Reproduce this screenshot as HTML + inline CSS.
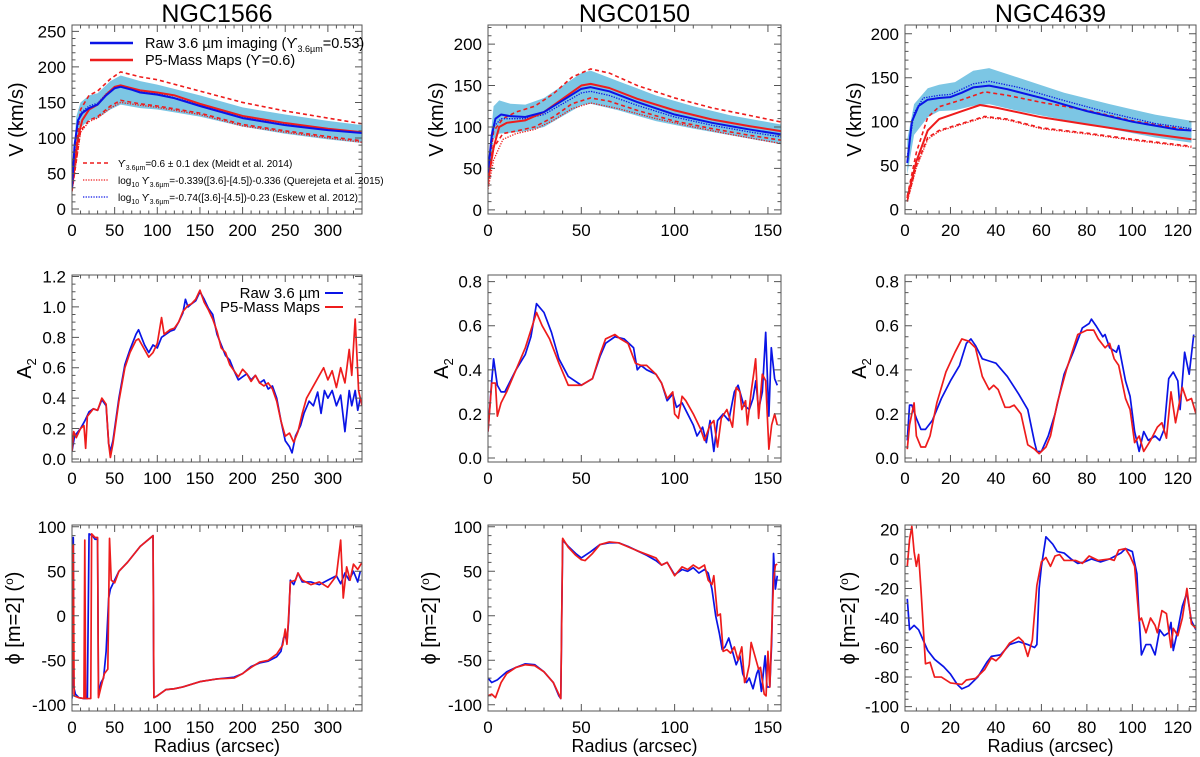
<!DOCTYPE html>
<html><head><meta charset="utf-8"><style>
html,body{margin:0;padding:0;background:#fff;}
svg{display:block;font-family:"Liberation Sans",sans-serif;}
</style></head><body>
<svg id="fig" width="1200" height="757" viewBox="0 0 1200 757" xmlns="http://www.w3.org/2000/svg"></svg>
<script>
// ---------- DATA ----------
const n1566Raw=[[0,30],[3,90],[7,125],[12,135],[20,142],[30,147],[40,160],[50,170],[57,172],[70,168],[80,164],[100,161],[120,156],[150,145],[200,128],[250,118],[300,111],[340,107]];
const n1566P5=[[0,30],[3,60],[7,100],[12,125],[20,140],[30,147],[40,161],[50,172],[57,174],[70,170],[80,167],[100,164],[120,160],[150,148],[200,131],[250,121],[300,113],[340,108]];
const n1566BandHi=[[0,40],[5,130],[10,150],[20,160],[30,163],[45,180],[57,188],[80,180],[100,175],[150,160],[200,143],[250,133],[300,124],[340,118]];
const n1566BandLo=[[0,30],[5,90],[10,115],[20,125],[30,128],[45,140],[57,147],[80,142],[100,140],[150,130],[200,116],[250,106],[300,98],[340,93]];
const n1566DashHi=[[0,40],[10,140],[20,160],[30,166],[45,183],[57,193],[80,186],[100,182],[150,166],[200,150],[250,138],[300,128],[340,120]];
const n1566DashLo=[[0,25],[10,110],[20,125],[30,130],[45,145],[57,153],[80,148],[100,145],[150,135],[200,119],[250,110],[300,102],[340,96]];
const n1566DotRed=[[0,25],[10,108],[20,123],[30,128],[45,142],[57,150],[80,146],[100,143],[150,133],[200,117],[250,108],[300,100],[340,94]];
const n1566DotBlue=[[0,35],[5,110],[10,135],[20,145],[30,149],[40,162],[50,172],[57,174],[80,166],[100,163],[150,147],[200,130],[250,120],[300,112],[340,108]];
const n150Raw=[[0,45],[2,90],[4,110],[7,115],[12,113],[20,112],[30,118],[40,132],[50,146],[55,148],[65,143],[80,130],[100,115],[120,105],[140,97],[157,91]];
const n150P5=[[0,35],[3,75],[6,100],[10,105],[20,108],[30,118],[40,134],[50,150],[55,152],[65,147],[80,134],[100,120],[120,109],[140,101],[157,95]];
const n150BandHi=[[0,55],[3,125],[6,132],[12,128],[20,127],[30,135],[40,150],[50,165],[55,168],[70,155],[90,138],[110,125],[130,114],[157,103]];
const n150BandLo=[[0,35],[3,85],[6,92],[12,93],[20,95],[30,100],[40,113],[50,126],[55,128],[70,120],[90,107],[110,98],[130,90],[157,79]];
const n150DashHi=[[0,40],[3,95],[8,110],[15,118],[25,125],[35,140],[45,160],[55,170],[65,165],[80,150],[100,135],[120,123],[140,114],[157,106]];
const n150DashLo=[[0,30],[3,75],[8,92],[15,95],[25,100],[35,112],[45,128],[55,135],[65,131],[80,120],[100,107],[120,98],[140,90],[157,84]];
const n150DotRed=[[0,25],[3,60],[8,85],[15,92],[25,97],[35,108],[45,122],[55,129],[70,122],[90,110],[110,100],[130,91],[157,80]];
const n150DotBlue=[[0,45],[3,100],[7,110],[12,110],[20,110],[30,115],[40,128],[50,141],[55,143],[65,138],[80,126],[100,112],[120,102],[140,94],[157,88]];
const n4639Raw=[[1,53],[3,100],[6,118],[10,125],[15,127],[20,128],[25,133],[30,139],[37,141],[45,137],[60,127],[80,112],[100,100],[120,91],[126,90]];
const n4639P5=[[1,13],[5,55],[10,90],[15,103],[25,112],[33,119],[40,116],[60,105],[80,97],[100,89],[126,80]];
const n4639BandHi=[[1,80],[4,120],[10,138],[15,142],[22,145],[30,158],[37,161],[50,150],[70,133],[90,120],[110,108],[126,101]];
const n4639BandLo=[[1,40],[4,85],[10,105],[15,112],[22,113],[30,118],[37,120],[50,112],[70,102],[90,92],[110,82],[126,76]];
const n4639DashHi=[[1,15],[5,65],[10,105],[15,117],[25,125],[35,134],[45,130],[60,122],[80,113],[100,101],[126,90]];
const n4639DashLo=[[1,10],[5,50],[10,82],[15,90],[25,98],[35,106],[45,103],[60,93],[80,87],[100,80],[126,72]];
const n4639DotRed=[[1,9],[5,48],[10,80],[15,89],[25,97],[35,105],[45,102],[60,92],[80,86],[100,79],[126,71]];
const n4639DotBlue=[[1,60],[4,110],[8,127],[15,130],[20,131],[30,143],[37,146],[50,139],[70,124],[90,110],[110,98],[126,92]];
const a2n1566Raw=[[0,0.05],[3,0.15],[10,0.2],[15,0.25],[20,0.31],[25,0.33],[30,0.32],[35,0.39],[40,0.35],[43,0.1],[45,0.05],[48,0.12],[55,0.4],[62,0.62],[68,0.72],[75,0.82],[78,0.85],[85,0.75],[90,0.7],[95,0.75],[100,0.73],[105,0.8],[110,0.82],[115,0.84],[120,0.85],[125,0.9],[130,0.96],[133,1.05],[136,1.0],[140,1.02],[145,1.04],[150,1.1],[155,1.05],[160,0.99],[165,0.95],[170,0.82],[175,0.75],[180,0.68],[185,0.65],[190,0.58],[195,0.52],[200,0.54],[205,0.56],[210,0.52],[215,0.55],[220,0.5],[225,0.52],[230,0.46],[235,0.48],[240,0.4],[245,0.25],[250,0.12],[255,0.08],[258,0.04],[262,0.15],[268,0.22],[272,0.3],[278,0.38],[283,0.35],[288,0.44],[292,0.3],[296,0.45],[300,0.4],[305,0.45],[310,0.35],[315,0.42],[320,0.18],[325,0.45],[328,0.35],[332,0.45],[335,0.32],[338,0.4]];
const a2n1566P5=[[0,0.05],[2,0.18],[5,0.14],[10,0.2],[14,0.22],[16,0.07],[18,0.28],[25,0.33],[30,0.32],[35,0.4],[40,0.36],[43,0.1],[45,0.01],[48,0.1],[55,0.38],[62,0.6],[68,0.7],[75,0.78],[78,0.79],[85,0.72],[90,0.67],[95,0.7],[100,0.76],[105,0.93],[108,0.82],[115,0.85],[120,0.86],[125,0.9],[130,0.97],[136,1.01],[140,1.02],[145,1.05],[150,1.11],[155,1.03],[160,0.98],[165,0.92],[170,0.84],[175,0.73],[180,0.7],[185,0.62],[190,0.58],[195,0.54],[200,0.59],[205,0.56],[210,0.51],[215,0.55],[220,0.5],[225,0.48],[230,0.5],[235,0.46],[240,0.38],[245,0.25],[250,0.15],[255,0.17],[260,0.11],[265,0.18],[270,0.3],[275,0.4],[280,0.45],[285,0.5],[290,0.55],[295,0.6],[300,0.52],[305,0.58],[310,0.47],[315,0.6],[320,0.5],[325,0.72],[328,0.55],[332,0.92],[336,0.45],[340,0.35]];
const a2n150Raw=[[0,0.12],[2,0.35],[3,0.45],[5,0.33],[7,0.3],[9,0.3],[12,0.35],[15,0.4],[20,0.47],[23,0.55],[26,0.7],[30,0.66],[34,0.57],[38,0.45],[43,0.37],[50,0.33],[56,0.36],[60,0.46],[63,0.52],[68,0.55],[73,0.54],[78,0.5],[80,0.4],[82,0.42],[85,0.4],[90,0.38],[93,0.34],[96,0.26],[99,0.29],[101,0.23],[104,0.25],[107,0.2],[110,0.15],[112,0.1],[115,0.14],[117,0.07],[119,0.17],[121,0.03],[123,0.17],[126,0.2],[129,0.17],[132,0.3],[134,0.33],[137,0.24],[140,0.22],[142,0.27],[143.5,0.35],[145,0.22],[147,0.3],[148.8,0.57],[150.5,0.19],[151.8,0.5],[153.6,0.36],[155,0.33]];
const a2n150P5=[[0,0.12],[2,0.34],[4,0.34],[5,0.19],[7,0.25],[10,0.3],[15,0.4],[20,0.5],[26,0.66],[29,0.6],[33,0.54],[38,0.43],[43,0.33],[50,0.33],[56,0.36],[60,0.47],[63,0.54],[68,0.56],[71,0.54],[75,0.52],[79,0.43],[82,0.42],[85,0.42],[90,0.38],[93,0.34],[96,0.27],[99,0.3],[100,0.2],[102,0.18],[104,0.28],[106,0.26],[110,0.2],[114,0.13],[116,0.08],[119,0.15],[121,0.17],[123,0.05],[125,0.18],[128,0.22],[131,0.14],[133,0.32],[135,0.3],[136,0.22],[138,0.26],[139,0.15],[141,0.3],[142.5,0.39],[143.4,0.45],[145,0.18],[147,0.38],[148.8,0.35],[150.5,0.04],[152,0.15],[153.6,0.2],[155,0.15]];
const a2n4639Raw=[[1,0.08],[2,0.24],[3,0.24],[5,0.18],[7,0.13],[9,0.13],[12,0.17],[16,0.27],[20,0.35],[24,0.42],[27,0.52],[29,0.54],[31,0.51],[34,0.45],[37,0.44],[40,0.43],[45,0.37],[50,0.29],[54,0.22],[57,0.07],[58,0.03],[60,0.03],[63,0.1],[66,0.2],[70,0.38],[74,0.48],[78,0.59],[81,0.61],[82,0.63],[84,0.6],[87,0.55],[88,0.56],[90,0.5],[93,0.48],[94,0.51],[97,0.35],[99,0.28],[101,0.12],[103,0.03],[105,0.12],[107,0.08],[110,0.1],[112,0.08],[114,0.13],[116,0.36],[118,0.39],[120,0.35],[121,0.22],[123,0.48],[125,0.38],[127,0.56]];
const a2n4639P5=[[1,0.04],[2,0.15],[4,0.25],[5,0.1],[7,0.05],[9,0.05],[11,0.1],[14,0.25],[18,0.39],[22,0.48],[25,0.54],[28,0.53],[31,0.5],[34,0.37],[37,0.31],[39,0.33],[41,0.31],[44,0.23],[46,0.23],[48,0.24],[51,0.2],[54,0.06],[57,0.04],[59,0.02],[62,0.05],[64,0.1],[67,0.25],[71,0.4],[76,0.56],[80,0.58],[83,0.58],[85,0.54],[88,0.5],[90,0.52],[92,0.45],[94,0.42],[97,0.27],[99,0.22],[101,0.07],[103,0.1],[105,0.03],[108,0.08],[111,0.14],[113,0.16],[115,0.09],[117,0.3],[119,0.16],[122,0.32],[124,0.26],[126,0.27],[128,0.2]];
const phn1566Raw=[[0,-93],[1.5,88],[2,-80],[4,-88],[8,-92],[14,-93],[18,-93],[20,92],[24,90],[27,86],[30,86],[31,-88],[34,-75],[37,-70],[40,-40],[43,20],[45,30],[50,40],[55,50],[65,60],[80,78],[95,90],[96,-92],[100,-90],[110,-83],[120,-82],[130,-80],[150,-74],[170,-71],[190,-69],[200,-65],[210,-57],[220,-53],[230,-51],[240,-46],[245,-40],[248,-25],[250,-22],[252,-30],[254,-5],[256,40],[260,35],[265,48],[270,38],[280,38],[290,35],[300,40],[310,45],[315,36],[320,48],[325,40],[330,50],[335,38],[338,50]];
const phn1566P5=[[0,-88],[1.5,80],[2.5,-90],[8,-92],[14,-93],[15,85],[16,-93],[22,-93],[23,92],[27,88],[30,88],[31,-92],[34,-80],[38,-65],[42,-60],[44,87],[46,40],[50,37],[55,50],[65,60],[80,78],[95,90],[96,-92],[100,-90],[110,-83],[120,-82],[130,-80],[150,-74],[170,-71],[190,-70],[200,-65],[210,-58],[220,-52],[230,-50],[240,-43],[247,-33],[250,-15],[252,-32],[254,0],[256,38],[262,40],[265,48],[270,40],[280,35],[290,38],[300,32],[310,45],[315,85],[318,20],[322,55],[326,40],[330,58],[335,52],[340,60]];
const phn150Raw=[[0,-70],[2,-75],[5,-72],[10,-63],[15,-58],[20,-54],[25,-55],[30,-63],[35,-75],[38,-90],[39,-93],[40,85],[43,78],[47,70],[50,65],[55,72],[60,80],[65,82],[70,82],[75,78],[80,73],[85,68],[90,62],[93,57],[96,60],[100,46],[104,52],[107,50],[110,54],[113,48],[116,52],[118,48],[120,30],[122,0],[124,-20],[125.5,-38],[127,-35],[129,-25],[131,-40],[133,-55],[135,-45],[136.5,-65],[138.5,-75],[140,-70],[142,-82],[144,-65],[145,-60],[146.5,-85],[147.5,-65],[148.5,-45],[149.5,-80],[151,-80],[152,-30],[153,70],[154,30],[155,45]];
const phn150P5=[[0,-90],[2,-88],[4,-92],[7,-75],[10,-65],[15,-58],[20,-55],[25,-56],[30,-63],[35,-75],[39,-93],[40,87],[43,77],[47,68],[50,63],[52,62],[56,70],[60,80],[65,83],[70,82],[80,73],[90,65],[93,57],[96,60],[100,45],[104,55],[107,52],[110,57],[113,53],[116,57],[118,40],[120,35],[121,45],[123,0],[124.5,2],[126,-40],[128,-38],[130,-42],[132,-35],[134,-50],[136,-35],[137.5,-75],[138.5,-70],[140,-55],[141,-30],[143,-45],[145,-60],[146,-58],[148,-88],[149,-90],[150,-40],[151,-80],[153,40],[154,57],[155,58]];
const phn4639Raw=[[1,-27],[2,-48],[4,-45],[6,-48],[8,-55],[10,-62],[13,-68],[17,-73],[20,-78],[23,-85],[25,-88],[28,-86],[32,-80],[36,-70],[38,-66],[42,-65],[46,-58],[50,-56],[54,-58],[57,-60],[58,-58],[59,-20],[60,-5],[62,15],[65,10],[67,5],[70,4],[73,0],[76,-3],[79,-2],[82,0],[86,-2],[90,0],[95,4],[97,7],[100,5],[102,-10],[103,-40],[104,-65],[106,-58],[108,-58],[110,-65],[112,-48],[114,-52],[116,-50],[117,-43],[118,-62],[120,-48],[122,-32],[124,-23],[126,-42],[128,-48]];
const phn4639P5=[[1,-5],[2,13],[3,22],[4,5],[5,-5],[6,3],[7,-20],[9,-71],[11,-70],[13,-80],[16,-80],[20,-84],[25,-85],[27,-82],[31,-81],[35,-75],[38,-67],[40,-69],[42,-66],[46,-57],[50,-53],[52,-56],[54,-66],[56,-55],[58,-18],[60,-2],[62,1],[64,-5],[66,2],[68,3],[70,-1],[75,-1],[78,-3],[81,2],[85,-1],[90,0],[92,-1],[94,6],[97,7],[99,2],[101,-5],[103,-42],[104,-40],[106,-50],[108,-40],[110,-45],[111,-50],[113,-35],[115,-37],[117,-60],[118,-47],[120,-52],[122,-40],[124,-20],[126,-44],[128,-47]];
const xTicks1=[0,50,100,150,200,250,300];
const xTicks2=[0,50,100,150];
const xTicks3=[0,20,40,60,80,100,120];
const vTicks1=[0,50,100,150,200,250];
const vTicks23=[0,50,100,150,200];
const a2Ticks1=[0,0.2,0.4,0.6,0.8,1.0,1.2];
const a2Ticks23=[0,0.2,0.4,0.6,0.8];
const phTicks12=[-100,-50,0,50,100];
const phTicks3=[-100,-80,-60,-40,-20,0,20];
const titles=["NGC1566","NGC0150","NGC4639"];

// ---------- DRAW ----------
const NS="http://www.w3.org/2000/svg";
const svg=document.getElementById('fig');
function mk(tag,attrs,parent){const e=document.createElementNS(NS,tag);for(const k in attrs)e.setAttribute(k,attrs[k]);(parent||svg).appendChild(e);return e;}
const BLUE="#0a14e6",RED="#ee1c1c",BAND="#7cc6e4";

function panel(name,x0,x1,y0,y1,xr,yr,xt,xminor,yt,yminor,ydec){
  const g=mk('g',{});
  
  
  const sx=v=>x0+(v-xr[0])/(xr[1]-xr[0])*(x1-x0);
  const sy=v=>y1-(v-yr[0])/(yr[1]-yr[0])*(y1-y0);
  const clipId='c'+name;
  const cp=mk('clipPath',{id:clipId},g);mk('rect',{x:x0,y:y0,width:x1-x0,height:y1-y0},cp);
  const plot=mk('g',{'clip-path':'url(#'+clipId+')'},g);
  const axes=mk('g',{},g);
  mk('rect',{x:x0,y:y0,width:x1-x0,height:y1-y0,fill:'none',stroke:'#555','stroke-width':1},axes);
  let d='';
  for(let v=Math.ceil(xr[0]/xminor)*xminor;v<=xr[1]+1e-9;v+=xminor){const X=sx(v);const maj=xt.some(t=>Math.abs(t-v)<1e-6);const L=maj?7:3.5;d+=`M${X},${y1}v${-L}M${X},${y0}v${L}`;}
  for(let v=Math.ceil(yr[0]/yminor-1e-9)*yminor;v<=yr[1]+1e-9;v+=yminor){const Y=sy(v);const maj=yt.some(t=>Math.abs(t-v)<1e-6);const L=maj?7:3.5;d+=`M${x0},${Y}h${L}M${x1},${Y}h${-L}`;}
  mk('path',{d:d,stroke:'#555','stroke-width':1,fill:'none'},axes);
  xt.forEach(t=>{const e=mk('text',{x:sx(t),y:y1+22,'text-anchor':'middle','font-size':17},axes);e.textContent=t;
    
    });
  yt.forEach(t=>{const e=mk('text',{x:x0-6,y:sy(t)+6,'text-anchor':'end','font-size':17},axes);e.textContent=t.toFixed(ydec);
    
    });
  return {sx,sy,plot};
}
function line(p,data,color,w,dash,name){
  const d=data.map((q,i)=>(i?'L':'M')+p.sx(q[0]).toFixed(2)+','+p.sy(q[1]).toFixed(2)).join('');
  const e=mk('path',{d:d,fill:'none',stroke:color,'stroke-width':w,'stroke-linejoin':'round'},p.plot);
  if(dash)e.setAttribute('stroke-dasharray',dash);
  
  
}
function band(p,hi,lo,name){
  const pts=hi.map(q=>p.sx(q[0])+','+p.sy(q[1])).concat(lo.slice().reverse().map(q=>p.sx(q[0])+','+p.sy(q[1])));
  const e=mk('polygon',{points:pts.join(' '),fill:BAND},p.plot);
  
  
}
function vPanel(p,bh,bl,dh,dl,dr,db,raw,p5){
  band(p,bh,bl,'uncertainty-band');
  line(p,dh,RED,1.6,'4,3','meidt-upper-dashed');
  line(p,dl,RED,1.6,'4,3','meidt-lower-dashed');
  line(p,dr,RED,1.3,'1.3,1.3','querejeta-dotted');
  line(p,db,BLUE,1.3,'1.3,1.3','eskew-dotted');
  line(p,p5,RED,2,null,'p5-mass-curve');
  line(p,raw,BLUE,2,null,'raw-curve');
}
const cols=[[72,362],[488,781],[905,1196]];
const rows=[[25,214],[275,462],[525,711]];
const v1=panel('v-panel-ngc1566',cols[0][0],cols[0][1],rows[0][0],rows[0][1],[0,340],[-7,259],xTicks1,10,vTicks1,10,0);
vPanel(v1,n1566BandHi,n1566BandLo,n1566DashHi,n1566DashLo,n1566DotRed,n1566DotBlue,n1566Raw,n1566P5);
const v2=panel('v-panel-ngc0150',cols[1][0],cols[1][1],rows[0][0],rows[0][1],[0,157],[-5,223],xTicks2,10,vTicks23,10,0);
vPanel(v2,n150BandHi,n150BandLo,n150DashHi,n150DashLo,n150DotRed,n150DotBlue,n150Raw,n150P5);
const v3=panel('v-panel-ngc4639',cols[2][0],cols[2][1],rows[0][0],rows[0][1],[0,128],[-5,210],xTicks3,5,vTicks23,10,0);
vPanel(v3,n4639BandHi,n4639BandLo,n4639DashHi,n4639DashLo,n4639DotRed,n4639DotBlue,n4639Raw,n4639P5);
const a1=panel('a2-panel-ngc1566',cols[0][0],cols[0][1],rows[1][0],rows[1][1],[0,340],[-0.02,1.21],xTicks1,10,a2Ticks1,0.05,1);
line(a1,a2n1566Raw,BLUE,1.7,null,'a2-raw');line(a1,a2n1566P5,RED,1.7,null,'a2-p5');
const a2=panel('a2-panel-ngc0150',cols[1][0],cols[1][1],rows[1][0],rows[1][1],[0,157],[-0.018,0.83],xTicks2,10,a2Ticks23,0.05,1);
line(a2,a2n150Raw,BLUE,1.7,null,'a2-raw');line(a2,a2n150P5,RED,1.7,null,'a2-p5');
const a3=panel('a2-panel-ngc4639',cols[2][0],cols[2][1],rows[1][0],rows[1][1],[0,128],[-0.018,0.83],xTicks3,5,a2Ticks23,0.05,1);
line(a3,a2n4639Raw,BLUE,1.7,null,'a2-raw');line(a3,a2n4639P5,RED,1.7,null,'a2-p5');
const f1=panel('phase-panel-ngc1566',cols[0][0],cols[0][1],rows[2][0],rows[2][1],[0,340],[-107,102],xTicks1,10,phTicks12,10,0);
line(f1,phn1566Raw,BLUE,1.7,null,'phase-raw');line(f1,phn1566P5,RED,1.7,null,'phase-p5');
const f2=panel('phase-panel-ngc0150',cols[1][0],cols[1][1],rows[2][0],rows[2][1],[0,157],[-107,102],xTicks2,10,phTicks12,10,0);
line(f2,phn150Raw,BLUE,1.7,null,'phase-raw');line(f2,phn150P5,RED,1.7,null,'phase-p5');
const f3=panel('phase-panel-ngc4639',cols[2][0],cols[2][1],rows[2][0],rows[2][1],[0,128],[-103,23],xTicks3,5,phTicks3,5,0);
line(f3,phn4639Raw,BLUE,1.7,null,'phase-raw');line(f3,phn4639P5,RED,1.7,null,'phase-p5');

titles.forEach((t,i)=>{const e=mk('text',{x:(cols[i][0]+cols[i][1])/2,y:22,'text-anchor':'middle','font-size':25});e.textContent=t;
  
  });
cols.forEach((c,i)=>{const e=mk('text',{x:(c[0]+c[1])/2,y:752,'text-anchor':'middle','font-size':18});e.textContent='Radius (arcsec)';
  
  });
const yTitleX=[[17,437,855],[25,442,860],[14,430,849]];
function ytitle(x,yc,html,name){const e=mk('text',{x:0,y:0,'text-anchor':'middle','font-size':20,transform:`translate(${x},${yc}) rotate(-90)`});e.innerHTML=html;
  
  }
for(let i=0;i<3;i++){
  ytitle(yTitleX[0][i]+6,(rows[0][0]+rows[0][1])/2,'V (km/s)','y-axis-title-velocity');
  ytitle(yTitleX[1][i]+6,(rows[1][0]+rows[1][1])/2,'A<tspan font-size="13" dy="5">2</tspan>','y-axis-title-a2');
  ytitle(yTitleX[2][i]+6,(rows[2][0]+rows[2][1])/2,'ϕ [m=2] (<tspan font-size="12" dy="-7">o</tspan><tspan dy="7">)</tspan>','y-axis-title-phase');
}
const lg=mk('g',{});


mk('line',{x1:90,y1:43,x2:133,y2:43,stroke:BLUE,'stroke-width':2.5},lg);
mk('line',{x1:90,y1:60,x2:133,y2:60,stroke:RED,'stroke-width':2.5},lg);
let t=mk('text',{x:145,y:48,'font-size':14.5},lg);t.innerHTML='Raw 3.6 µm imaging (ϒ<tspan font-size="9" dy="4">3.6µm</tspan><tspan dy="-4">=0.53)</tspan>';
t=mk('text',{x:145,y:65,'font-size':14.5},lg);t.textContent='P5-Mass Maps (ϒ=0.6)';
mk('line',{x1:83,y1:163,x2:108,y2:163,stroke:RED,'stroke-width':1.6,'stroke-dasharray':'4,3'},lg);
mk('line',{x1:83,y1:180,x2:108,y2:180,stroke:RED,'stroke-width':1.3,'stroke-dasharray':'1.3,1.3'},lg);
mk('line',{x1:83,y1:197,x2:108,y2:197,stroke:BLUE,'stroke-width':1.3,'stroke-dasharray':'1.3,1.3'},lg);
t=mk('text',{x:118,y:167,'font-size':10},lg);t.innerHTML='ϒ<tspan font-size="7" dy="3">3.6µm</tspan><tspan dy="-3">=0.6 ± 0.1 dex (Meidt et al. 2014)</tspan>';
t=mk('text',{x:118,y:184,'font-size':10},lg);t.innerHTML='log<tspan font-size="7" dy="3">10</tspan><tspan dy="-3"> ϒ</tspan><tspan font-size="7" dy="3">3.6µm</tspan><tspan dy="-3">=-0.339([3.6]-[4.5])-0.336 (Querejeta et al. 2015)</tspan>';
t=mk('text',{x:118,y:201,'font-size':10},lg);t.innerHTML='log<tspan font-size="7" dy="3">10</tspan><tspan dy="-3"> ϒ</tspan><tspan font-size="7" dy="3">3.6µm</tspan><tspan dy="-3">=-0.74([3.6]-[4.5])-0.23 (Eskew et al. 2012)</tspan>';
const lg2=mk('g',{});


t=mk('text',{x:320,y:298,'font-size':15,'text-anchor':'end'},lg2);t.textContent='Raw 3.6 µm';
t=mk('text',{x:320,y:312,'font-size':15,'text-anchor':'end'},lg2);t.textContent='P5-Mass Maps';
mk('line',{x1:325,y1:293,x2:343,y2:293,stroke:BLUE,'stroke-width':2},lg2);
mk('line',{x1:325,y1:307,x2:343,y2:307,stroke:RED,'stroke-width':2},lg2);
</script>
</body></html>
